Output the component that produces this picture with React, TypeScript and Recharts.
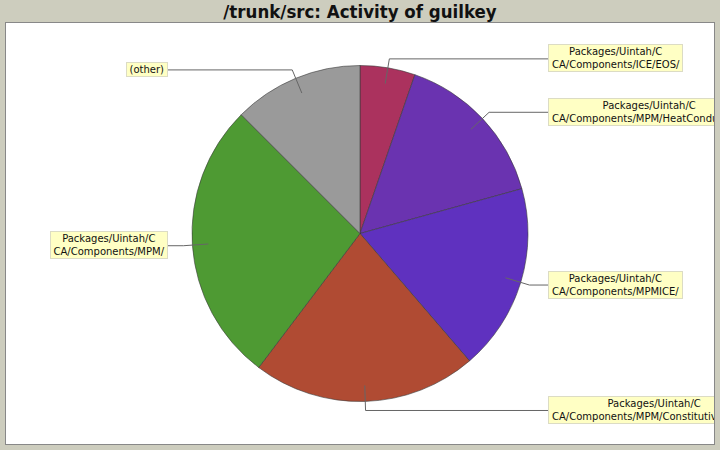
import React from 'react';
import { Pie, PieChart, Cell } from 'recharts';

// slice names (full paths), clockwise from 12 o'clock
const names = [
  'Packages/Uintah/CCA/Components/ICE/EOS/',
  'Packages/Uintah/CCA/Components/MPM/HeatConduction/',
  'Packages/Uintah/CCA/Components/MPMICE/',
  'Packages/Uintah/CCA/Components/MPM/ConstitutiveModel/',
  'Packages/Uintah/CCA/Components/MPM/',
  '(other)',
];
const values = [5.3, 15.4, 18.0, 21.6, 27.2, 12.5];
const colors = ['#ab325e', '#6a33b0', '#5f31bf', '#b04b33', '#4e9a33', '#9a9a9a'];

const TITLE = '/trunk/src: Activity of guilkey';

const data = names.map((name, i) => ({ name, value: values[i] }));

const RAD = Math.PI / 180;

// split long paths like JFreeChart wraps them
const wrap = (s: string) => (s.length > 17 ? [s.slice(0, 17), s.slice(17)] : [s]);

const renderLabel = (props: any) => {
  const { cx, cy, midAngle, outerRadius, name } = props;
  const sin = Math.sin(-midAngle * RAD);
  const cos = Math.cos(-midAngle * RAD);
  const ax = cx + outerRadius * 0.905 * cos;
  const ay = cy + outerRadius * 0.905 * sin;
  const ex = cx + outerRadius * 1.054 * cos;
  const ey = cy + outerRadius * 1.054 * sin;
  const right = cos >= 0;
  const boxX = right ? cx + 188 : cx - 192;
  const lines = wrap(name);
  const h = lines.length * 13 + 1;

  const box = (
    <div
      style={{
        display: 'inline-block',
        background: '#ffffc4',
        border: '1px solid #dcdcc4',
        padding: '0 3px',
        fontFamily: "'DejaVu Sans', sans-serif",
        fontSize: 10,
        lineHeight: '13px',
        color: '#111',
        textAlign: 'center',
        whiteSpace: 'nowrap',
      }}
    >
      {lines.map((l, i) => (
        <div key={i}>{l}</div>
      ))}
    </div>
  );

  return (
    <g>
      <polyline
        points={`${ax},${ay} ${ex},${ey} ${boxX},${ey}`}
        fill="none"
        stroke="#666"
        strokeWidth={1}
      />
      {right ? (
        <foreignObject x={boxX} y={ey - h / 2 - 1} width={400} height={h + 4}>
          {box}
        </foreignObject>
      ) : (
        <foreignObject x={0} y={ey - h / 2 - 1} width={boxX} height={h + 4}>
          <div style={{ display: 'flex', justifyContent: 'flex-end' }}>{box}</div>
        </foreignObject>
      )}
    </g>
  );
};

export default function App() {
  return (
    <div
      style={{
        position: 'absolute',
        left: 0,
        top: 0,
        width: 720,
        height: 450,
        background: '#cdcdbe',
        overflow: 'hidden',
      }}
    >
      <div
        style={{
          position: 'absolute',
          top: 1,
          left: 0,
          width: 720,
          height: 22,
          lineHeight: '22px',
          textAlign: 'center',
          fontFamily: "'DejaVu Sans Condensed', 'DejaVu Sans', sans-serif",
          fontStretch: 'condensed',
          fontWeight: 'bold',
          fontSize: 18.5,
          color: '#111',
        }}
      >
        {TITLE}
      </div>
      <div
        style={{
          position: 'absolute',
          left: 5,
          top: 22,
          width: 708,
          height: 421,
          background: '#fff',
          border: '1px solid #888',
          overflow: 'hidden',
        }}
      >
        <PieChart width={708} height={421} margin={{ top: 0, right: 0, bottom: 0, left: 0 }}>
          <Pie
            data={data}
            dataKey="value"
            nameKey="name"
            cx={354}
            cy={210.5}
            outerRadius={168}
            startAngle={90}
            endAngle={-270}
            stroke="#3a3a3a"
            strokeWidth={0.6}
            label={renderLabel}
            labelLine={false}
            isAnimationActive={false}
          >
            {data.map((d, i) => (
              <Cell key={`cell-${i}`} fill={colors[i]} />
            ))}
          </Pie>
        </PieChart>
      </div>
    </div>
  );
}
